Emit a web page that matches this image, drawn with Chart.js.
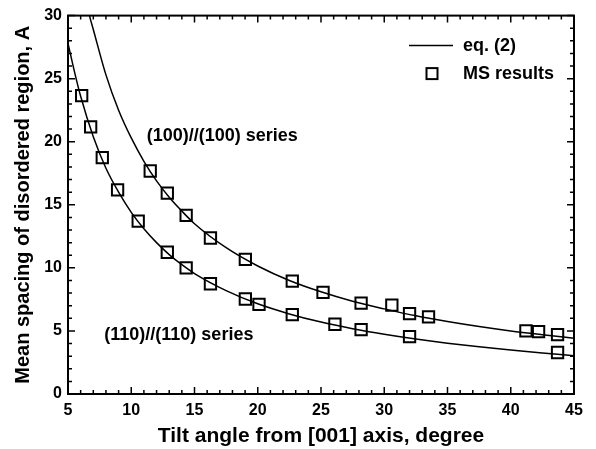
<!DOCTYPE html>
<html>
<head>
<meta charset="utf-8">
<script src="https://cdn.jsdelivr.net/npm/chart.js@4.4.1/dist/chart.umd.min.js"></script>
<style>
    html, body { margin: 0; padding: 0; background: #fff; }
</style>
</head>
<body>
<canvas id="chart" width="596" height="449"></canvas>
<script>
// Axis ticks
const xTicks = [5, 10, 15, 20, 25, 30, 35, 40, 45];
const yTicks = [0, 5, 10, 15, 20, 25, 30];

// eq. (2) curves
const curve100X = [6.5, 6.7, 7, 8, 9, 10, 11, 12, 13, 14, 15, 17.5, 20, 22.5, 25, 27.5, 30, 32.5, 35, 37.5, 40, 42.5, 45];
const curve100Y = [31.0, 30.0, 28.9, 25.3, 22.5, 20.3, 18.45, 16.9, 15.6, 14.5, 13.5, 11.6, 10.15, 9.0, 8.1, 7.35, 6.75, 6.2, 5.75, 5.35, 5.0, 4.7, 4.42];
const curve110X = [5, 5.5, 6, 7, 8, 9, 10, 11, 12, 13, 14, 15, 17.5, 20, 22.5, 25, 27.5, 30, 32.5, 35, 37.5, 40, 42.5, 45];
const curve110Y = [27.8, 25.6, 23.6, 20.4, 17.9, 16.0, 14.4, 13.1, 12.0, 11.05, 10.25, 9.55, 8.2, 7.15, 6.35, 5.7, 5.18, 4.74, 4.36, 4.03, 3.74, 3.48, 3.25, 3.03];

// MS results
const ms100X = [11.5, 12.85, 14.34, 16.26, 19.02, 22.73, 25.16, 28.17, 30.6, 32.0, 33.5, 41.2, 42.2, 43.7];
const ms100Y = [17.68, 15.92, 14.16, 12.37, 10.68, 8.95, 8.05, 7.21, 7.05, 6.37, 6.11, 5.0, 4.95, 4.71];
const ms110X = [6.08, 6.79, 7.71, 8.92, 10.55, 12.85, 14.34, 16.26, 19.02, 20.1, 22.73, 26.1, 28.17, 32.0, 43.7];
const ms110Y = [23.66, 21.18, 18.74, 16.18, 13.71, 11.24, 10.0, 8.74, 7.53, 7.11, 6.29, 5.53, 5.11, 4.55, 3.29];

const FONT = '"Liberation Sans", Arial, sans-serif';

function pts(xs, ys) {
    return xs.map((x, i) => ({ x: x, y: ys[i] }));
}

// frame, inward ticks on all four sides, legend and series labels
const decorations = {
    id: 'decorations',
    afterDraw(chart) {
        const { ctx, chartArea: a, scales: { x, y } } = chart;
        ctx.save();
        ctx.strokeStyle = '#000';
        ctx.lineWidth = 1.5;
        ctx.beginPath();
        for (let v = x.min; v <= x.max; v++) {
            const px = x.getPixelForValue(v);
            const len = v % 5 === 0 ? 7 : 4;
            ctx.moveTo(px, a.bottom); ctx.lineTo(px, a.bottom - len);
            ctx.moveTo(px, a.top); ctx.lineTo(px, a.top + len);
        }
        for (let v = y.min; v <= y.max; v++) {
            const py = y.getPixelForValue(v);
            const len = v % 5 === 0 ? 7 : 4;
            ctx.moveTo(a.left, py); ctx.lineTo(a.left + len, py);
            ctx.moveTo(a.right, py); ctx.lineTo(a.right - len, py);
        }
        ctx.stroke();
        ctx.lineWidth = 2;
        ctx.strokeRect(a.left, a.top, a.right - a.left, a.bottom - a.top);

        // legend
        ctx.fillStyle = '#000';
        ctx.font = 'bold 18px ' + FONT;
        ctx.textBaseline = 'middle';
        ctx.textAlign = 'left';
        ctx.lineWidth = 1.5;
        ctx.beginPath();
        ctx.moveTo(a.left + 341, a.top + 30);
        ctx.lineTo(a.left + 385, a.top + 30);
        ctx.stroke();
        ctx.fillText('eq. (2)', a.left + 395, a.top + 30);
        ctx.lineWidth = 2;
        ctx.fillStyle = '#fff';
        ctx.fillRect(a.left + 358.5, a.top + 52.5, 11, 11);
        ctx.strokeRect(a.left + 358.5, a.top + 52.5, 11, 11);
        ctx.fillStyle = '#000';
        ctx.fillText('MS results', a.left + 395, a.top + 58);

        // series labels
        ctx.fillText('(100)//(100) series', x.getPixelForValue(11.22), y.getPixelForValue(20.45));
        ctx.fillText('(110)//(110) series', x.getPixelForValue(7.87), y.getPixelForValue(4.66));
        ctx.restore();
    }
};

const curveStyle = {
    type: 'line',
    showLine: true,
    borderColor: '#000',
    borderWidth: 1.5,
    pointRadius: 0,
    fill: false,
    cubicInterpolationMode: 'monotone'
};
const markStyle = {
    type: 'scatter',
    pointStyle: 'rect',
    pointRadius: 8,
    pointBorderWidth: 2,
    pointBorderColor: '#000',
    pointBackgroundColor: '#fff',
    showLine: false
};

new Chart(document.getElementById('chart'), {
    type: 'scatter',
    data: {
        datasets: [
            Object.assign({ label: 'eq. (2)', data: pts(curve100X, curve100Y) }, curveStyle),
            Object.assign({ label: 'eq. (2) 110', data: pts(curve110X, curve110Y) }, curveStyle),
            Object.assign({ label: 'MS results', data: pts(ms100X, ms100Y) }, markStyle),
            Object.assign({ label: 'MS results 110', data: pts(ms110X, ms110Y) }, markStyle)
        ]
    },
    options: {
        responsive: false,
        animation: false,
        layout: { padding: { left: 0, right: 22, top: 14, bottom: 0 } },
        plugins: {
            legend: { display: false },
            tooltip: { enabled: false }
        },
        scales: {
            x: {
                type: 'linear',
                min: 5,
                max: 45,
                afterBuildTicks: s => { s.ticks = xTicks.map(v => ({ value: v })); },
                afterFit: s => { s.height = 55; },
                grid: { display: false, drawTicks: false },
                border: { display: false },
                ticks: { color: '#000', padding: 7, font: { family: FONT, size: 16, weight: 'bold' } },
                title: {
                    display: true,
                    text: 'Tilt angle from [001] axis, degree',
                    color: '#000',
                    padding: { top: 0, bottom: 0 },
                    font: { family: FONT, size: 21, weight: 'bold' }
                }
            },
            y: {
                type: 'linear',
                min: 0,
                max: 30,
                afterBuildTicks: s => { s.ticks = yTicks.map(v => ({ value: v })); },
                afterFit: s => { s.width = 68; },
                grid: { display: false, drawTicks: false },
                border: { display: false },
                ticks: { color: '#000', padding: 6, font: { family: FONT, size: 16, weight: 'bold' } },
                title: {
                    display: true,
                    text: 'Mean spacing of disordered region, A',
                    color: '#000',
                    padding: { top: 11, bottom: 0 },
                    font: { family: FONT, size: 20, weight: 'bold' }
                }
            }
        }
    },
    plugins: [decorations]
});
</script>
</body>
</html>
